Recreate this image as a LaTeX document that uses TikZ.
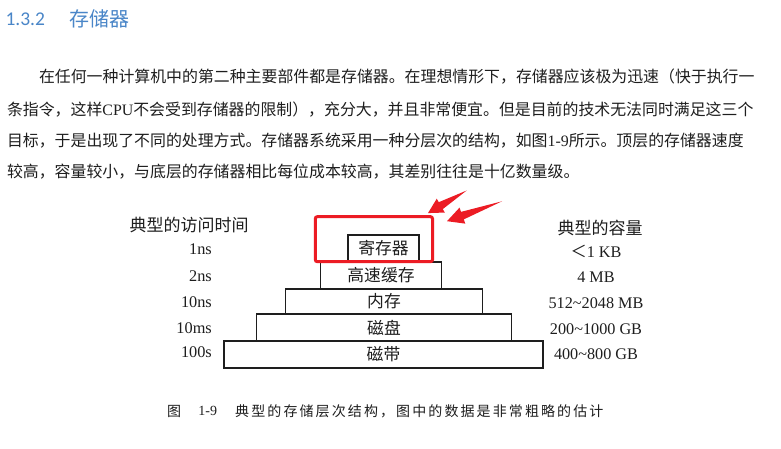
\documentclass[tikz,border=0pt]{standalone}
\usepackage{fontspec}
\setmainfont{Liberation Serif}
\newfontfamily\cjk{Noto Sans CJK SC}
\newfontfamily\hdnum{Carlito}
\usetikzlibrary{calc}
\definecolor{hdblue}{RGB}{74,134,200}
\definecolor{hlred}{RGB}{236,28,36}
\definecolor{inkc}{RGB}{30,30,30}
\newlength\capgap
\setlength\capgap{2.1pt}
\def\spacedchars#1{\ifx#1\relax\else#1\hspace{\capgap}\expandafter\spacedchars\fi}
\begin{document}
\begin{tikzpicture}[x=1pt,y=-1pt,
  para/.style={anchor=base west, inner sep=0pt, outer sep=0pt, text=inkc, font=\fontsize{15.9}{19}\selectfont},
  hdr/.style={anchor=base west, inner sep=0pt, outer sep=0pt, text=hdblue},
  tier/.style={draw=inkc, line width=1.1pt, inner sep=0pt, outer sep=0pt, text=inkc, font=\cjk\fontsize{16.8}{19}\selectfont},
  colhdr/.style={anchor=center, inner sep=0pt, text=inkc, font=\cjk\fontsize{17}{19}\selectfont},
  timelbl/.style={anchor=east, inner sep=0pt, text=inkc, font=\fontsize{16.3}{18}\selectfont},
  caplbl/.style={anchor=center, inner sep=0pt, text=inkc, font=\fontsize{16.2}{18}\selectfont},
  figcap/.style={inner sep=0pt, text=inkc, font=\fontsize{14}{16}\selectfont},
  hlbox/.style={draw=hlred, line width=3pt, rounded corners=2pt, inner sep=0pt, outer sep=0pt}
]
\useasboundingbox (0,0) rectangle (781,449);
\fill[white] (0,0) rectangle (781,449);

% section heading
\node[hdr, font=\hdnum\fontsize{19.5}{22}\selectfont] (secnum) at (5.5,26) {1.3.2};
\node[hdr, font=\cjk\fontsize{20}{22}\selectfont] (sectitle) at (69,26.8) {存储器};

% paragraph
\node[para] (l1) at (39,83) {\cjk 在任何一种计算机中的第二种主要部件都是存储器。在理想情形下，存储器应该极为迅速（快于执行一};
\node[para] (l2) at (7,116) {{\cjk 条指令，这样}CPU{\cjk 不会受到存储器的限制），充分大，并且非常便宜。但是目前的技术无法同时满足这三个}};
\node[para] (l3) at (7,146.5) {{\cjk 目标，于是出现了不同的处理方式。存储器系统采用一种分层次的结构，如图}1-9{\cjk 所示。顶层的存储器速度}};
\node[para] (l4) at (7,178) {\cjk 较高，容量较小，与底层的存储器相比每位成本较高，其差别往往是十亿数量级。};

% column headers
\node[colhdr] (thdr) at (189,225) {典型的访问时间};
\node[colhdr] (chdr) at (600,227.7) {典型的容量};

% pyramid
\node[tier, minimum width=71pt, minimum height=27pt] (reg) at (383.5,248.5) {寄存器};
\node[tier, minimum width=121pt, minimum height=26.5pt] (cache) at (381,275.25) {高速缓存};
\node[tier, minimum width=197pt, minimum height=25pt] (mem) at (384,301.5) {内存};
\node[tier, minimum width=255pt, minimum height=27pt] (disk) at (384,327.5) {磁盘};
\node[tier, minimum width=319pt, minimum height=27pt] (tape) at (383.5,354.5) {磁带};

% access times
\node[timelbl] (t1) at (212,249) {1ns};
\node[timelbl] (t2) at (212,275.7) {2ns};
\node[timelbl] (t3) at (212,301.7) {10ns};
\node[timelbl] (t4) at (212,327.7) {10ms};
\node[timelbl] (t5) at (212,352.3) {100s};

% capacities
\node[caplbl] (c1) at (596,251.7) {{\cjk ＜}1 KB};
\node[caplbl] (c2) at (596,277) {4 MB};
\node[caplbl] (c3) at (596,303) {512\textasciitilde 2048 MB};
\node[caplbl] (c4) at (596,329) {200\textasciitilde 1000 GB};
\node[caplbl] (c5) at (596,354) {400\textasciitilde 800 GB};

% highlight
\node[hlbox, minimum width=117.2pt, minimum height=45pt] (hl) at (373.9,239.2) {};

\coordinate (a1t) at (466.7,190.5);
\coordinate (a1p) at ($(hl.north east)+(-4.5,-3.6)$);
\path (a1t) -- (a1p) coordinate[pos=0.67] (a1c);
\fill[hlred] (a1t) -- ($(a1c)!4pt!90:(a1p)$) -- ($(a1c)!8pt!90:(a1p)$) -- (a1p)
  -- ($(a1c)!8pt!-90:(a1p)$) -- ($(a1c)!4pt!-90:(a1p)$) -- cycle;

\coordinate (a2t) at (502,201.3);
\coordinate (a2p) at ($(hl.north east)+(14.5,4.5)$);
\path (a2t) -- (a2p) coordinate[pos=0.72] (a2c);
\fill[hlred] (a2t) -- ($(a2c)!4pt!90:(a2p)$) -- ($(a2c)!8.5pt!90:(a2p)$) -- (a2p)
  -- ($(a2c)!8.5pt!-90:(a2p)$) -- ($(a2c)!4pt!-90:(a2p)$) -- cycle;

% caption
\node[figcap, anchor=center] (figw) at (174,411) {\cjk 图};
\node[figcap, anchor=center] (fign) at (207.8,411) {1-9};
\node[figcap, anchor=west] (figt) at (235,411) {\cjk\spacedchars 典型的存储层次结构，图中的数据是非常粗略的估计\relax};
\end{tikzpicture}
\end{document}
